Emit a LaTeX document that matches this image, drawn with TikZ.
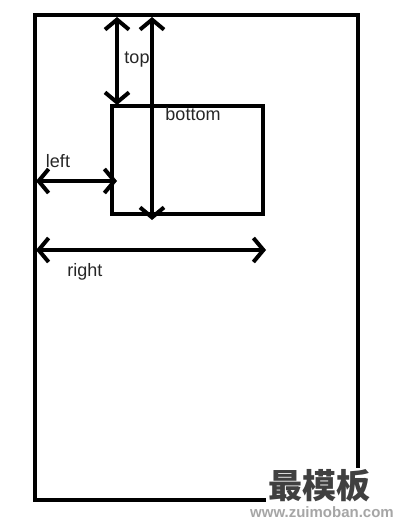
\documentclass[tikz,border=0pt]{standalone}
\usepackage{fontspec}
\setmainfont{Liberation Sans}
\newfontfamily\cjkfont{Noto Sans CJK SC}
\usetikzlibrary{arrows.meta}

\begin{document}
\begin{tikzpicture}[x=1pt,y=-1pt,font=\fontsize{18}{20}\selectfont,
    frame/.style={line width=4pt},
    dim/.style={line width=4pt,line join=round,{Straight Barb[length=10pt,width=24pt]}-{Straight Barb[length=10pt,width=24pt]}},
    lbl/.style={inner sep=0pt,text=black!85}]
        \useasboundingbox (0,0) rectangle (402,524);
        % outer area and the positioned box
        \draw[frame] (35,15) rectangle (358,500);
        \draw[frame] (112,106) rectangle (263,214);
        \coordinate (toptop) at (117,17);
        \coordinate (topend) at (117,105);
        \coordinate (bottop) at (152,17);
        \coordinate (botend) at (152,220);
        \coordinate (leftstart) at (36,181);
        \coordinate (leftend) at (117,181);
        \coordinate (rightstart) at (36,250);
        \coordinate (rightend) at (266,250);
        \draw[dim] (toptop)--(topend);
        \draw[dim] (bottop)--(botend);
        \draw[dim] (leftstart)--(leftend);
        \draw[dim] (rightstart)--(rightend);
        \node[lbl] (toplbl) at (137,60) {top};
        \node[lbl] (botlbl) at (193,114) {bottom};
        \node[lbl] (leftlbl) at (58,161) {left};
        \node[lbl] (rightlbl) at (85,272) {right};
        % watermark
        \node[fill=white,inner sep=2pt,text=black!75,font=\cjkfont\bfseries\fontsize{34}{36}\selectfont] (wm) at (319,486) {最模板};
        \node[fill=white,inner sep=1pt,text=black!35,font=\bfseries\fontsize{15}{16}\selectfont] (url) at (322,512) {www.zuimoban.com};
      \end{tikzpicture}
\end{document}
